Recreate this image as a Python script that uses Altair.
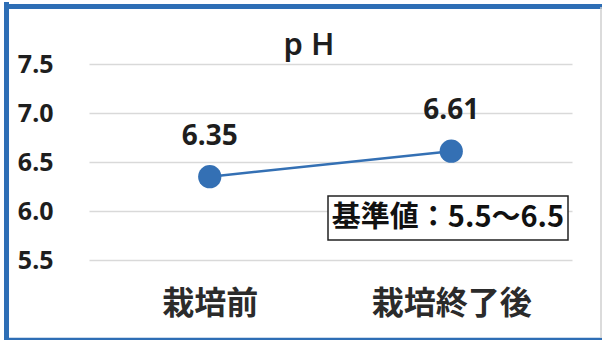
import altair as alt
import pandas as pd

# pH measured before and after cultivation
stages = ["栽培前", "栽培終了後"]
ph_values = [6.35, 6.61]
y_ticks = [5.5, 6.0, 6.5, 7.0, 7.5]
title_text = "p H"
note_text = "基準値：5.5〜6.5"

df = pd.DataFrame({"stage": stages, "ph": ph_values})
df["label"] = [f"{v:.2f}" for v in ph_values]

BLUE = "#3470B4"
CJK = "Noto Sans CJK JP"

x_enc = alt.X(
    "stage:N",
    sort=stages,
    scale=alt.Scale(paddingInner=0, paddingOuter=0),
    axis=alt.Axis(
        title=None, labelAngle=0, ticks=False, domain=False,
        labelFont=CJK, labelFontSize=32, labelFontWeight="bold",
        labelColor="#2b2b2b", labelPadding=28,
    ),
)
y_enc = alt.Y(
    "ph:Q",
    scale=alt.Scale(domain=[5.5, 7.5], nice=False, zero=False),
    axis=alt.Axis(
        title=None, values=y_ticks, format=".1f", ticks=False, domain=False,
        labelFont="Noto Sans", labelFontSize=25, labelFontWeight="bold",
        labelColor="#1e1e1e", labelPadding=36, labelAlign="right",
        grid=True, gridColor="#d9d9d9", gridWidth=1.5,
    ),
)

base = alt.Chart(df)

line = base.mark_line(color=BLUE, strokeWidth=2.5).encode(x=x_enc, y=y_enc)
points = base.mark_circle(color=BLUE, size=540, opacity=1).encode(x=x_enc, y=y_enc)
labels = base.mark_text(
    font="Noto Sans", fontSize=28, fontWeight="bold", color="#1e1e1e",
    baseline="bottom", dy=-26,
).encode(x=x_enc, y=y_enc, text="label:N")

title = alt.Chart(pd.DataFrame({"t": [title_text]})).mark_text(
    font="Noto Sans", fontSize=31, fontWeight=600, color="#1e1e1e",
    baseline="alphabetic", align="center",
).encode(x=alt.value(220), y=alt.value(-9), text="t:N")

note_box = alt.Chart(pd.DataFrame({"n": [0]})).mark_rect(
    fill="white", stroke="#222222", strokeWidth=1.5,
).encode(x=alt.value(239), x2=alt.value(479), y=alt.value(132), y2=alt.value(176))
note = alt.Chart(pd.DataFrame({"t": [note_text]})).mark_text(
    font=CJK, fontSize=29, fontWeight="bold", color="#111111",
    baseline="middle", align="center",
).encode(x=alt.value(359), y=alt.value(154), text="t:N")

# outer frame of the chart
frame_df = pd.DataFrame({"n": [0]})
frame_left = alt.Chart(frame_df).mark_rule(color="#2E6EB5", strokeWidth=5).encode(
    x=alt.value(-82.5), y=alt.value(-62), y2=alt.value(276))
frame_top = alt.Chart(frame_df).mark_rule(color="#2E6EB5", strokeWidth=5).encode(
    x=alt.value(-85), x2=alt.value(513), y=alt.value(-57.5))
frame_bottom = alt.Chart(frame_df).mark_rule(color="#2E6EB5", strokeWidth=2.5).encode(
    x=alt.value(-85), x2=alt.value(513), y=alt.value(275))
frame_right = alt.Chart(frame_df).mark_rule(color="#cfcfcf", strokeWidth=1.5).encode(
    x=alt.value(512), y=alt.value(-57), y2=alt.value(274))

chart = alt.layer(
    line, points, labels, title, note_box, note,
    frame_left, frame_top, frame_bottom, frame_right,
).properties(
    width=483, height=196,
    autosize=alt.AutoSizeParams(type="none"),
    padding={"left": 89, "top": 64, "right": 30, "bottom": 80},
    background="white",
).configure_view(stroke=None)

chart.save("out.html", embed_options={"renderer": "svg", "actions": False})
